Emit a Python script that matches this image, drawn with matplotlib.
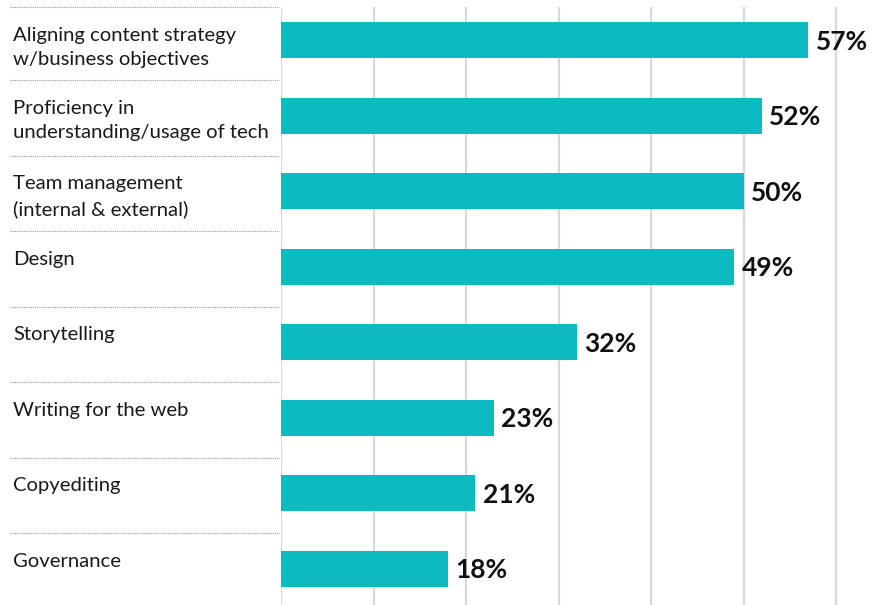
import matplotlib.pyplot as plt
from matplotlib.transforms import blended_transform_factory

# Skills survey results
skills = [
    "Aligning content strategy\nw/business objectives",
    "Proficiency in\nunderstanding/usage of tech",
    "Team management\n(internal & external)",
    "Design",
    "Storytelling",
    "Writing for the web",
    "Copyediting",
    "Governance",
]
shares = [57, 52, 50, 49, 32, 23, 21, 18]
grid_ticks = [0, 10, 20, 30, 40, 50, 60]

BAR_COLOR = "#0cbbbf"
GRID_COLOR = "#d9d9d9"

plt.rcParams['font.family'] = ['Lato', 'DejaVu Sans']

fig = plt.figure(figsize=(8.81, 6.05), dpi=100)
ax = fig.add_axes([281 / 881, 0, 600 / 881, 1 - 7 / 605])

pos = list(range(len(skills)))
ax.barh(pos, shares, height=0.48, color=BAR_COLOR, zorder=2)

for x in grid_ticks:
    ax.axvline(x, color=GRID_COLOR, lw=1.6, zorder=1)

for y, v in zip(pos, shares):
    ax.text(v + 0.8, y + 0.02, f"{v}%", va="center", ha="left",
            fontsize=19, fontweight="bold", color="#111111")

ax.set_xlim(0, 600 / 9.25)
ax.set_ylim(7.48, -0.44)
ax.axis("off")

# dotted separators and labels sit in the left margin
trans = blended_transform_factory(fig.transFigure, ax.transData)
for y, name in zip(pos, skills):
    sep = y - 0.44 if y == 0 else y - 0.47
    ax.plot([10 / 881, 279 / 881], [sep, sep], transform=trans,
            color="#999999", lw=0.8, ls=(0, (1, 1)), clip_on=False)
    ax.text(13 / 881, sep + 0.26, name, transform=trans, va="top",
            ha="left", fontsize=14.6, color="#1a1a1a", linespacing=1.5)

fig.savefig("out.png", dpi=100)
